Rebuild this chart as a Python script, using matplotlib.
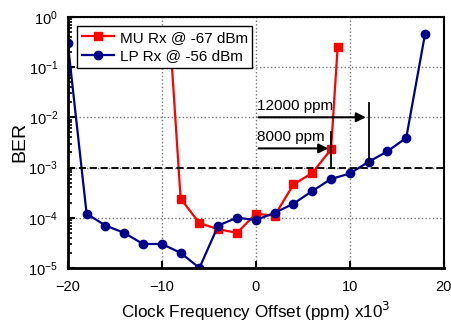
import numpy as np
import matplotlib
matplotlib.use("Agg")
from matplotlib import pyplot as plt
from matplotlib.ticker import LogLocator, NullFormatter

plt.rcParams['font.family'] = ['Liberation Sans', 'DejaVu Sans']

# ===== Данные =====
mu_x = [-9, -8, -6, -4, -2, 0, 2, 4, 6, 8, 8.7]
mu_ber = [1.7e-1, 2.4e-4, 7.8e-5, 5.9e-5, 5.0e-5, 1.2e-4, 1.1e-4, 4.6e-4, 7.8e-4, 2.3e-3, 2.5e-1]

lp_x = [-20, -18, -16, -14, -12, -10, -8, -6, -4, -2, 0, 2, 4, 6, 8, 10, 12, 14, 16, 18]
lp_ber = [3.0e-1, 1.2e-4, 7.0e-5, 5.0e-5, 3.0e-5, 3.0e-5, 2.0e-5, 1.0e-5, 7.0e-5, 1.0e-4,
          9.0e-5, 1.25e-4, 1.9e-4, 3.4e-4, 5.9e-4, 7.6e-4, 1.3e-3, 2.1e-3, 3.9e-3, 4.6e-1]

mu_label = 'MU Rx @ -67 dBm'
lp_label = 'LP Rx @ -56 dBm'
ber_limit = 1e-3

fig = plt.figure(figsize=(4.52, 3.24), dpi=100)
ax = fig.add_axes([0.150, 0.173, 0.832, 0.775])

ax.plot(mu_x, mu_ber, '-s', color='#ff0000', lw=1.6, ms=5.5, label=mu_label)
ax.plot(lp_x, lp_ber, '-o', color='#00008b', lw=1.6, ms=6, label=lp_label)

ax.axhline(ber_limit, color='black', ls='--', lw=1.3, dashes=(4, 2))

# ---- стрелки ----
ax.annotate('', xy=(12, 1e-2), xytext=(0, 1e-2),
            arrowprops=dict(arrowstyle='-|>', color='black', lw=1.5, mutation_scale=14))
ax.plot([12, 12], [1.9e-2, 1.1e-3], color='black', lw=1.3)
ax.text(0.1, 1.22e-2, '12000 ppm', fontsize=11, va='bottom', ha='left')

ax.annotate('', xy=(8, 2.4e-3), xytext=(0, 2.4e-3),
            arrowprops=dict(arrowstyle='-|>', color='black', lw=1.5, mutation_scale=14))
ax.plot([8, 8], [5.2e-3, 1e-3], color='black', lw=1.3)
ax.text(0.1, 2.9e-3, '8000 ppm', fontsize=11, va='bottom', ha='left')

ax.set_yscale('log')
ax.set_xlim(-20, 20)
ax.set_ylim(1e-5, 1)
ax.set_xticks([-20, -10, 0, 10, 20])
ax.yaxis.set_minor_locator(LogLocator(base=10, subs=np.arange(2, 10), numticks=20))
ax.yaxis.set_minor_formatter(NullFormatter())
ax.tick_params(axis='both', which='major', direction='in', length=5, width=1.5, labelsize=10.5,
               top=False, right=False)
ax.tick_params(axis='x', which='major', pad=9)
ax.tick_params(axis='y', which='major', pad=7)
ax.tick_params(axis='y', which='minor', direction='in', length=3, width=1.2, right=False)
ax.tick_params(axis='x', which='minor', bottom=False)

ax.grid(True, which='major', color='#777777', ls=':', lw=1.0)

for side in ['left', 'bottom']:
    ax.spines[side].set_linewidth(2.0)
for side in ['top', 'right']:
    ax.spines[side].set_linewidth(1.5)

ax.set_xlabel('Clock Frequency Offset (ppm) x10$^3$', fontsize=12.3, labelpad=4)
ax.set_ylabel('BER', fontsize=14, labelpad=0)

leg = ax.legend(loc='upper left', bbox_to_anchor=(0.0, 1.0), borderaxespad=0.6, fontsize=11,
                frameon=True, fancybox=False, edgecolor='black', framealpha=1, handlelength=2.1,
                borderpad=0.3, labelspacing=0.3, handletextpad=0.4)
leg.get_frame().set_linewidth(1.0)

plt.savefig('out.png', dpi=100)
